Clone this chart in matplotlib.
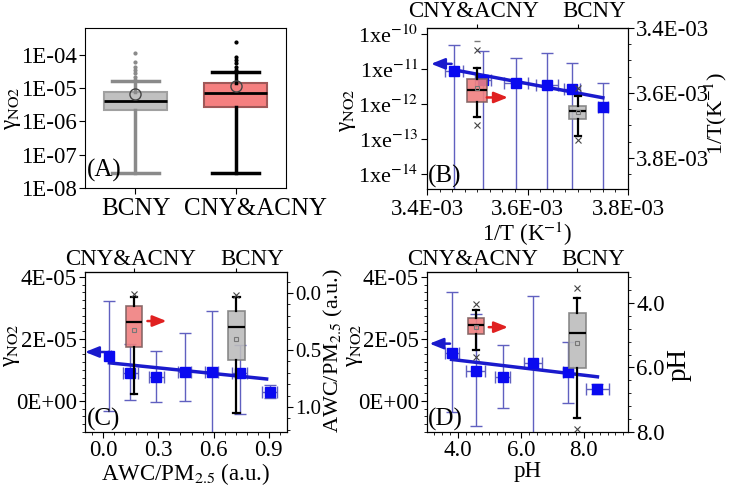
import numpy as np
import matplotlib.pyplot as plt
from matplotlib.transforms import blended_transform_factory, offset_copy
from matplotlib.ticker import (FixedLocator, FuncFormatter, FormatStrFormatter,
                               AutoMinorLocator, LogLocator, NullFormatter)

plt.rcParams['font.family'] = ['Liberation Serif', 'DejaVu Serif']
plt.rcParams['mathtext.fontset'] = 'stix'
plt.rcParams['font.size'] = 16.5
plt.rcParams['xtick.major.size'] = 4
plt.rcParams['ytick.major.size'] = 4
plt.rcParams['xtick.minor.size'] = 2
plt.rcParams['ytick.minor.size'] = 2
plt.rcParams['xtick.major.pad'] = 2
plt.rcParams['ytick.major.pad'] = 2

W, H = 731, 486

# (A) gamma_NO2 distribution per period
periods = ['BCNY', 'CNY&ACNY']
a_q1 = [2.2e-6, 2.7e-6]
a_med = [4.1e-6, 7.1e-6]
a_q3 = [7.6e-6, 1.4e-5]
a_lo = [2.8e-8, 2.8e-8]
a_hi = [1.6e-5, 3.0e-5]
a_mean = [6.6e-6, 1.15e-5]
a_out = [[1.7e-5, 2.2e-5, 2.8e-5, 3.5e-5, 4.4e-5, 6.2e-5, 1.1e-4],
         [3.5e-5, 4.4e-5, 5.5e-5, 6.9e-5, 8.7e-5, 2.46e-4]]

# box periods shown on the top axis of B-D
box_labels = ['CNY&ACNY', 'BCNY']

# (B) gamma vs 1/T
b_x = [3.454e-3, 3.511e-3, 3.577e-3, 3.639e-3, 3.689e-3, 3.750e-3]
b_xerr = [1.8e-5, 1.6e-5, 2.3e-5, 2.2e-5, 1.6e-5, 1.0e-5]
b_y = [8.8e-12, 4.85e-12, 4.0e-12, 3.5e-12, 2.7e-12, 8.2e-13]
b_yhi = [4.85e-11, 3.3e-11, 2.06e-11, 2.9e-11, 1.5e-11, 4.0e-12]
b_ylo = [1e-16, 1e-16, 1e-16, 1e-16, 1e-16, 1e-16]
b_fit_x = [3.454e-3, 3.750e-3]
b_fit_y = [9.4e-12, 1.5e-12]
b_pos = [3.5e-3, 3.7e-3]
b_q1 = [3.558e-3, 3.639e-3]
b_med = [3.592e-3, 3.657e-3]
b_q3 = [3.629e-3, 3.679e-3]
b_lo = [3.524e-3, 3.611e-3]
b_hi = [3.673e-3, 3.732e-3]
b_mean = [3.586e-3, 3.660e-3]
b_fliers = [[3.468e-3, 3.698e-3], [3.586e-3, 3.744e-3]]
b_blue_arrow = [(3.449e-3, 1.4e-11), (3.408e-3, 1.4e-11)]
b_red_arrow = [(3.519e-3, 3.614e-3), (3.561e-3, 3.614e-3)]

# (C) gamma vs AWC/PM2.5
c_x = [0.033, 0.147, 0.289, 0.442, 0.589, 0.742, 0.905]
c_xerr = [0.01, 0.04, 0.04, 0.035, 0.035, 0.04, 0.04]
c_y = [1.45e-5, 0.90e-5, 0.77e-5, 0.94e-5, 0.94e-5, 0.90e-5, 0.29e-5]
c_yhi = [3.23e-5, 1.85e-5, 1.61e-5, 2.19e-5, 2.90e-5, 1.80e-5, 0.52e-5]
c_ylo = [-0.32e-5, 0.03e-5, -0.03e-5, 0.0, -1.1e-5, -0.42e-5, 0.10e-5]
c_fit_x = [0.033, 0.889]
c_fit_y = [1.23e-5, 0.71e-5]
c_pos = [0.169, 0.725]
c_q1 = [0.114, 0.158]
c_med = [0.254, 0.298]
c_q3 = [0.474, 0.588]
c_lo = [0.035, 0.035]
c_hi = [0.886, 1.053]
c_mean = [0.325, 0.404]
c_fliers = [[0.009], [0.018]]
c_blue_arrow = [(0.005, 1.58e-5), (-0.1, 1.58e-5)]
c_red_arrow = [(0.24, 0.246), (0.344, 0.246)]

# (D) gamma vs pH
d_x = [3.80, 4.56, 5.42, 6.39, 7.50, 8.43]
d_xerr = [0.22, 0.29, 0.24, 0.28, 0.17, 0.36]
d_y = [1.55e-5, 0.98e-5, 0.78e-5, 1.21e-5, 0.93e-5, 0.39e-5]
d_yhi = [3.5e-5, 2.82e-5, 1.82e-5, 3.37e-5, 1.89e-5, 0.56e-5]
d_ylo = [-0.37e-5, -0.82e-5, -0.24e-5, -1.2e-5, -0.05e-5, 0.24e-5]
d_fit_x = [3.80, 8.43]
d_fit_y = [1.34e-5, 0.78e-5]
d_pos = [4.59, 7.79]
d_q1 = [4.47, 4.30]
d_med = [4.68, 4.94]
d_q3 = [4.96, 6.02]
d_lo = [4.22, 3.85]
d_hi = [5.46, 7.58]
d_mean = [4.74, 5.25]
d_fliers = [[4.04, 5.67], [3.54, 7.92]]
d_blue_arrow = [(3.75, 1.85e-5), (3.1, 1.85e-5)]
d_red_arrow = [(4.98, 4.75), (5.59, 4.75)]

blue = '#0a0af0'
line_blue = '#1a1acc'
err_col = '#6060c0'
gname = 'γ$_{\\rm NO2}$'

fig = plt.figure(figsize=(W / 100, H / 100), dpi=100)


def place(l, t, r, b):
    return fig.add_axes([l / W, 1 - b / H, (r - l) / W, (b - t) / H])


def cat_labels(ax, pos, labels, y, dy, shifts, size):
    # category names drawn as text, nudged a few pixels like the original
    tr = blended_transform_factory(ax.transData, ax.transAxes)
    for p, lab, dx in zip(pos, labels, shifts):
        ax.text(p, y, lab, fontsize=size, ha='center', va='baseline',
                transform=offset_copy(tr, fig=fig, x=dx, y=dy, units='dots'))


# ---------------- panel A
axA = place(85, 28, 286, 188)
statsA = [dict(label=periods[i], q1=a_q1[i], med=a_med[i], q3=a_q3[i],
               whislo=a_lo[i], whishi=a_hi[i], mean=a_mean[i], fliers=a_out[i])
          for i in range(2)]
bpA = axA.bxp(statsA, positions=[1, 2], widths=0.63, capwidths=0.47,
              patch_artist=True, showmeans=True, manage_ticks=False)
faceA = ['#c0c0c0', '#f58080']
edgeA = ['#a0a0a0', '#a05858']
wcolA = ['#8a8a8a', 'black']
for i in range(2):
    bpA['boxes'][i].set(facecolor=faceA[i], edgecolor=edgeA[i], lw=1.5)
    for ln in bpA['whiskers'][2 * i:2 * i + 2] + bpA['caps'][2 * i:2 * i + 2]:
        ln.set(color=wcolA[i], lw=2.5)
    bpA['medians'][i].set(color='black', lw=2)
    bpA['means'][i].set(marker='o', mfc='none', mec='#444444', ms=8, mew=1)
    bpA['fliers'][i].set(marker='o', mfc=wcolA[i], mec=wcolA[i], ms=2)
axA.set_yscale('log')
axA.set_ylim(1e-8, 6.3e-4)
axA.set_xlim(0.5, 2.5)
axA.yaxis.set_major_locator(FixedLocator([1e-8, 1e-7, 1e-6, 1e-5, 1e-4]))
axA.yaxis.set_major_formatter(FuncFormatter(lambda v, p: '1E-%02d' % round(-np.log10(v))))
axA.yaxis.set_minor_locator(LogLocator(base=10, subs=np.arange(2, 10)))
axA.yaxis.set_minor_formatter(NullFormatter())
axA.set_xticks([1, 2], ['', ''])
cat_labels(axA, [1, 2], periods, 0.0, -27, [1, 20], 18)
axA.set_ylabel(gname)
axA.yaxis.set_label_coords(-0.31, 0.5)
axA.text(0.01, 0.04, '(A)', transform=axA.transAxes, fontsize=18, ha='left', va='bottom')


def scatter_part(ax, x, xerr, y, ylo, yhi, fx, fy):
    yerr = [np.subtract(y, ylo), np.subtract(yhi, y)]
    ax.errorbar(x, y, xerr=xerr, yerr=yerr, fmt='none', ecolor=err_col,
                elinewidth=1, capsize=4, capthick=1)
    ax.plot(fx, fy, color=line_blue, lw=2.5)
    ax.plot(x, y, 's', color=blue, ms=7)


def box_part(ax2, pos, q1, med, q3, lo, hi, mean, fliers, widths, capw):
    stats = [dict(q1=q1[i], med=med[i], q3=q3[i], whislo=lo[i], whishi=hi[i],
                  mean=mean[i], fliers=fliers[i]) for i in range(2)]
    bp = ax2.bxp(stats, positions=pos, widths=widths, capwidths=capw,
                 patch_artist=True, showmeans=True, manage_ticks=False)
    face = ['#f08080', '#bdbdbd']
    edge = ['#806060', '#808080']
    for i in range(2):
        bp['boxes'][i].set(facecolor=face[i], edgecolor=edge[i], lw=1.2, alpha=0.9)
        for ln in bp['whiskers'][2 * i:2 * i + 2] + bp['caps'][2 * i:2 * i + 2]:
            ln.set(color='black', lw=1.6)
        bp['medians'][i].set(color='black', lw=1.6)
        bp['means'][i].set(marker='s', mfc='none', mec='#777777', ms=3.5, mew=0.8)
        bp['fliers'][i].set(marker='x', mec='#444444', ms=4, mew=0.8)


def arrows(ax_blue, ax_red, barrow, rarrow):
    ax_blue.annotate('', xy=barrow[1], xytext=barrow[0],
                     arrowprops=dict(arrowstyle='-|>,head_length=0.5,head_width=0.2',
                                     color=line_blue, lw=1.8, shrinkA=0, shrinkB=0))
    ax_red.annotate('', xy=rarrow[1], xytext=rarrow[0],
                    arrowprops=dict(arrowstyle='-|>,head_length=0.5,head_width=0.2',
                                    color='#e02020', lw=1.8, shrinkA=0, shrinkB=0))


def top_axis(ax, pos, dy):
    top = ax.secondary_xaxis('top')
    top.set_xticks(pos, labels=['', ''])
    top.tick_params(length=3)
    cat_labels(ax, pos, box_labels, 1.0, dy, [-4, 16], 16.5)


# ---------------- panel B
axB = place(427, 28, 628, 189)
scatter_part(axB, b_x, b_xerr, b_y, b_ylo, b_yhi, b_fit_x, b_fit_y)
axB.set_yscale('log')
axB.set_ylim(3.7e-15, 1.48e-10)
axB.set_xlim(3.4e-3, 3.8e-3)
axB.yaxis.set_major_locator(FixedLocator([1e-14, 1e-13, 1e-12, 1e-11, 1e-10]))
axB.yaxis.set_major_formatter(FuncFormatter(lambda v, p: '1xe$^{%d}$' % round(np.log10(v))))
axB.yaxis.set_minor_locator(LogLocator(base=10, subs=np.arange(2, 10)))
axB.yaxis.set_minor_formatter(NullFormatter())
axB.tick_params(axis='y', labelsize=16)
axB.xaxis.set_major_locator(FixedLocator([3.4e-3, 3.6e-3, 3.8e-3]))
axB.xaxis.set_major_formatter(FormatStrFormatter('%.1E'))
axB.xaxis.set_minor_locator(AutoMinorLocator(8))
axB.tick_params(axis='x', pad=3)
axB.set_xlabel('1/T (K$^{-1}$)', labelpad=0)
axB.set_ylabel(gname)
axB.yaxis.set_label_coords(-0.345, 0.49)
axB2 = axB.twinx()
box_part(axB2, b_pos, b_q1, b_med, b_q3, b_lo, b_hi, b_mean, b_fliers,
         [4.0e-5, 3.4e-5], 1.2e-5)
axB2.plot([b_pos[0]], [3.44e-3], marker='_', color='#777777', ms=5, ls='none')
axB2.set_ylim(3.896e-3, 3.4e-3)
axB2.yaxis.set_major_locator(FixedLocator([3.4e-3, 3.6e-3, 3.8e-3]))
axB2.yaxis.set_major_formatter(FormatStrFormatter('%.1E'))
axB2.yaxis.set_minor_locator(AutoMinorLocator(4))
axB2.set_ylabel('1/T(K$^{-1}$)', fontsize=16)
axB2.yaxis.set_label_coords(1.37, 0.47)
axB.set_xlim(3.4e-3, 3.8e-3)
arrows(axB, axB2, b_blue_arrow, b_red_arrow)
top_axis(axB, b_pos, 11)
axB.text(0.005, 0.005, '(B)', transform=axB.transAxes, fontsize=18, ha='left', va='bottom')

# ---------------- panel C
axC = place(85, 272, 287, 432)
scatter_part(axC, c_x, c_xerr, c_y, c_ylo, c_yhi, c_fit_x, c_fit_y)
axC.set_ylim(-1.0e-5, 4.16e-5)
axC.set_xlim(-0.1, 1.0)
axC.yaxis.set_major_locator(FixedLocator([0, 2e-5, 4e-5]))
axC.yaxis.set_major_formatter(FormatStrFormatter('%.0E'))
axC.yaxis.set_minor_locator(AutoMinorLocator(8))
axC.xaxis.set_major_locator(FixedLocator([0.0, 0.3, 0.6, 0.9]))
axC.xaxis.set_major_formatter(FormatStrFormatter('%.1f'))
axC.xaxis.set_minor_locator(AutoMinorLocator(5))
axC.set_xlabel('AWC/PM$_{2.5}$ (a.u.)', labelpad=0)
axC.set_ylabel(gname)
axC.yaxis.set_label_coords(-0.31, 0.54)
axC2 = axC.twinx()
box_part(axC2, c_pos, c_q1, c_med, c_q3, c_lo, c_hi, c_mean, c_fliers,
         [0.087, 0.093], 0.033)
axC2.set_ylim(1.219, -0.184)
axC2.yaxis.set_major_locator(FixedLocator([0.0, 0.5, 1.0]))
axC2.yaxis.set_major_formatter(FormatStrFormatter('%.1f'))
axC2.yaxis.set_minor_locator(AutoMinorLocator(5))
axC2.tick_params(axis='y', labelsize=15)
axC2.set_ylabel('AWC/PM$_{2.5}$ (a.u.)', fontsize=16)
axC2.yaxis.set_label_coords(1.175, 0.51)
axC.set_xlim(-0.1, 1.0)
arrows(axC, axC2, c_blue_arrow, c_red_arrow)
top_axis(axC, c_pos, 7)
axC.text(0.01, 0.005, '(C)', transform=axC.transAxes, fontsize=18, ha='left', va='bottom')

# ---------------- panel D
axD = place(427, 272, 628, 432)
scatter_part(axD, d_x, d_xerr, d_y, d_ylo, d_yhi, d_fit_x, d_fit_y)
axD.set_ylim(-1.0e-5, 4.16e-5)
axD.set_xlim(3.02, 9.4)
axD.yaxis.set_major_locator(FixedLocator([0, 2e-5, 4e-5]))
axD.yaxis.set_major_formatter(FormatStrFormatter('%.0E'))
axD.yaxis.set_minor_locator(AutoMinorLocator(8))
axD.xaxis.set_major_locator(FixedLocator([4.0, 6.0, 8.0]))
axD.xaxis.set_major_formatter(FormatStrFormatter('%.1f'))
axD.xaxis.set_minor_locator(AutoMinorLocator(8))
axD.set_xlabel('pH', labelpad=0)
axD.set_ylabel(gname)
axD.yaxis.set_label_coords(-0.31, 0.54)
axD2 = axD.twinx()
box_part(axD2, d_pos, d_q1, d_med, d_q3, d_lo, d_hi, d_mean, d_fliers,
         [0.51, 0.54], 0.19)
axD2.set_ylim(8.0, 3.04)
axD2.yaxis.set_major_locator(FixedLocator([4.0, 6.0, 8.0]))
axD2.yaxis.set_major_formatter(FormatStrFormatter('%.1f'))
axD2.yaxis.set_minor_locator(AutoMinorLocator(5))
axD2.set_ylabel('pH', fontsize=19.5)
axD2.yaxis.set_label_coords(1.19, 0.42)
axD.set_xlim(3.02, 9.4)
arrows(axD, axD2, d_blue_arrow, d_red_arrow)
top_axis(axD, d_pos, 7)
axD.text(0.005, 0.005, '(D)', transform=axD.transAxes, fontsize=18, ha='left', va='bottom')

fig.savefig('out.png', dpi=100)
